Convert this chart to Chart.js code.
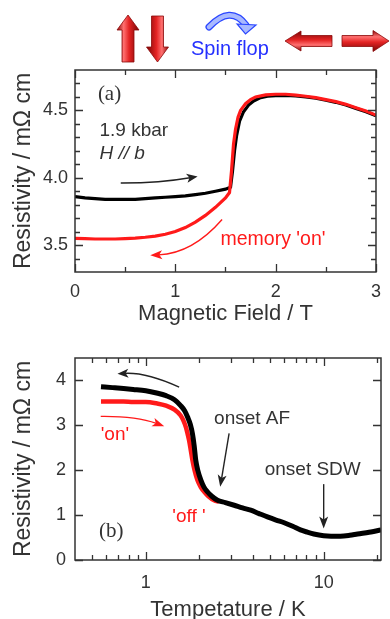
<!DOCTYPE html>
<html>
<head>
<meta charset="utf-8">
<script src="https://cdn.jsdelivr.net/npm/chart.js@4.4.1/dist/chart.umd.min.js"></script>
<style>
  html, body { margin: 0; padding: 0; background: #fff; }
  body { width: 390px; height: 619px; overflow: hidden; position: relative; }
  canvas { display: block; position: absolute; left: 0; }
  #chartA { top: 0; }
  #chartB { top: 335px; }
</style>
</head>
<body>
<canvas id="chartA" width="390" height="335"></canvas>
<canvas id="chartB" width="390" height="294"></canvas>
<script>
// (a) resistivity vs magnetic field
const fieldBlack = [0, 0.1, 0.2, 0.3, 0.4, 0.5, 0.6, 0.7, 0.8, 0.9, 1.0, 1.1, 1.2, 1.3, 1.4, 1.5,
  1.55, 1.57, 1.59, 1.61, 1.64, 1.68, 1.73, 1.78, 1.85, 1.92,
  2.0, 2.1, 2.2, 2.3, 2.4, 2.5, 2.6, 2.7, 2.8, 2.9, 3.0];
const rhoBlackA = [3.86, 3.85, 3.845, 3.84, 3.84, 3.84, 3.84, 3.845, 3.85, 3.855, 3.86, 3.865, 3.875, 3.885, 3.9, 3.915,
  3.93, 4.05, 4.2, 4.31, 4.42, 4.49, 4.54, 4.57, 4.595, 4.605,
  4.61, 4.612, 4.607, 4.6, 4.59, 4.575, 4.56, 4.54, 4.515, 4.49, 4.46];
const fieldRed = [0, 0.1, 0.2, 0.3, 0.4, 0.5, 0.6, 0.7, 0.8, 0.9, 1.0, 1.1, 1.2, 1.3, 1.4, 1.5,
  1.54, 1.56, 1.58, 1.6, 1.625, 1.65, 1.7, 1.75, 1.8, 1.9,
  2.0, 2.1, 2.2, 2.3, 2.4, 2.5, 2.6, 2.7, 2.8, 2.9, 3.0];
const rhoRedA = [3.55, 3.548, 3.545, 3.545, 3.545, 3.548, 3.552, 3.558, 3.567, 3.58, 3.6, 3.63, 3.67, 3.72, 3.78, 3.85,
  3.89, 4.05, 4.25, 4.36, 4.45, 4.5, 4.55, 4.58, 4.6, 4.615,
  4.62, 4.62, 4.613, 4.605, 4.595, 4.58, 4.565, 4.545, 4.52, 4.495, 4.465];

// (b) resistivity vs temperature
const tempBlack = [0.56, 0.65, 0.75, 0.85, 1.0, 1.15, 1.3, 1.45, 1.57, 1.65, 1.72, 1.78, 1.83, 1.87, 1.91, 1.96,
  2.04, 2.12, 2.22, 2.35, 2.53, 2.8, 3.14, 3.5, 3.89, 4.3, 4.83, 5.4, 6.0, 6.7, 7.4, 8.1, 8.8,
  10, 11, 12.4, 14, 15.5, 18, 21];
const rhoBlackB = [3.86, 3.84, 3.82, 3.8, 3.77, 3.72, 3.66, 3.57, 3.44, 3.33, 3.18, 3.02, 2.81, 2.55, 2.22, 2.0,
  1.78, 1.63, 1.52, 1.42, 1.33, 1.28, 1.22, 1.16, 1.11, 1.04, 0.96, 0.89, 0.83, 0.75, 0.67, 0.62, 0.58,
  0.54, 0.53, 0.53, 0.55, 0.58, 0.62, 0.67];
const tempRed = [0.56, 0.65, 0.75, 0.85, 1.0, 1.15, 1.3, 1.45, 1.57, 1.63, 1.68, 1.72, 1.75, 1.79, 1.83, 1.88,
  1.95, 2.04, 2.13, 2.25, 2.42, 2.58];
const rhoRedB = [3.53, 3.53, 3.53, 3.52, 3.52, 3.49, 3.44, 3.35, 3.22, 3.1, 2.96, 2.8, 2.67, 2.45, 2.22, 2.0,
  1.78, 1.62, 1.52, 1.42, 1.33, 1.3];

// tick labels
const fieldTicks = [0, 1, 2, 3];
const fieldMinor = [0.5, 1.5, 2.5];
const rhoTicksA = [3.5, 4.0, 4.5];
const rhoMinorA = [3.4, 3.6, 3.7, 3.8, 3.9, 4.1, 4.2, 4.3, 4.4, 4.6, 4.7];
const tempTicks = [1, 10];
const tempMinor = [0.5, 0.6, 0.7, 0.8, 0.9, 2, 3, 4, 5, 6, 7, 8, 9, 20];
const rhoTicksB = [0, 1, 2, 3, 4];

const SANS = '"Liberation Sans", Arial, sans-serif';
const SERIF = '"Liberation Serif", "Times New Roman", serif';
const INK = '#333';
const RED = '#ff1a1a';

function pts(xs, ys) {
  return xs.map((x, i) => ({ x: x, y: ys[i] }));
}

// box frame with inward ticks on all four sides
const framePlugin = {
  id: 'frame',
  afterDatasetsDraw(chart, args, opts) {
    const { ctx, chartArea: a, scales: { x, y } } = chart;
    ctx.save();
    ctx.strokeStyle = INK;
    ctx.lineWidth = 1.5;
    ctx.strokeRect(a.left, a.top, a.right - a.left, a.bottom - a.top);
    ctx.lineWidth = 1.3;
    ctx.beginPath();
    const xt = (vals, len) => vals.forEach(v => {
      const p = Math.round(x.getPixelForValue(v)) + 0.5;
      ctx.moveTo(p, a.bottom); ctx.lineTo(p, a.bottom - len);
      ctx.moveTo(p, a.top); ctx.lineTo(p, a.top + len);
    });
    const yt = (vals, len) => vals.forEach(v => {
      const p = Math.round(y.getPixelForValue(v)) + 0.5;
      ctx.moveTo(a.left, p); ctx.lineTo(a.left + len, p);
      ctx.moveTo(a.right, p); ctx.lineTo(a.right - len, p);
    });
    xt(opts.xMajor, 8); xt(opts.xMinor, 5);
    yt(opts.yMajor, 8); yt(opts.yMinor, 5);
    ctx.stroke();
    ctx.restore();
  }
};

function arrowHead(ctx, tx, ty, ang, len, wid, color) {
  ctx.save();
  ctx.translate(tx, ty);
  ctx.rotate(ang);
  ctx.fillStyle = color;
  ctx.beginPath();
  ctx.moveTo(0, 0);
  ctx.lineTo(-len, -wid / 2);
  ctx.lineTo(-len * 0.75, 0);
  ctx.lineTo(-len, wid / 2);
  ctx.closePath();
  ctx.fill();
  ctx.restore();
}

// texts and arrows given in data coordinates
const notesPlugin = {
  id: 'notes',
  afterDatasetsDraw(chart, args, opts) {
    const { ctx, scales: { x, y } } = chart;
    const px = p => [x.getPixelForValue(p[0]), y.getPixelForValue(p[1])];
    ctx.save();
    (opts.arrows || []).forEach(ar => {
      const p0 = px(ar.from), p1 = px(ar.to);
      const c = ar.ctrl ? px(ar.ctrl) : p0;
      const ang = Math.atan2(p1[1] - c[1], p1[0] - c[0]);
      const hl = ar.head ? ar.head[0] : 10;
      const hw = ar.head ? ar.head[1] : 8;
      const ex = p1[0] - Math.cos(ang) * hl * 0.7, ey = p1[1] - Math.sin(ang) * hl * 0.7;
      ctx.strokeStyle = ar.color;
      ctx.lineWidth = 1.4;
      ctx.beginPath();
      ctx.moveTo(p0[0], p0[1]);
      if (ar.ctrl) ctx.quadraticCurveTo(c[0], c[1], ex, ey);
      else ctx.lineTo(ex, ey);
      ctx.stroke();
      arrowHead(ctx, p1[0], p1[1], ang, hl, hw, ar.color);
    });
    (opts.texts || []).forEach(t => {
      const p = px(t.at);
      ctx.font = t.font;
      ctx.fillStyle = t.color;
      ctx.textAlign = 'left';
      ctx.textBaseline = 'alphabetic';
      ctx.fillText(t.text, p[0], p[1]);
    });
    ctx.restore();
  }
};

function blockArrow(ctx, tx, ty, ang, total, sw, hw, hl) {
  ctx.save();
  ctx.translate(tx, ty);
  ctx.rotate(ang);
  const g = ctx.createLinearGradient(0, -hw / 2, 0, hw / 2);
  g.addColorStop(0, '#8a0808');
  g.addColorStop(0.3, '#ff7070');
  g.addColorStop(0.55, '#e42424');
  g.addColorStop(1, '#7a0505');
  ctx.fillStyle = g;
  ctx.strokeStyle = '#8c0a0a';
  ctx.lineWidth = 0.8;
  ctx.beginPath();
  ctx.moveTo(0, 0);
  ctx.lineTo(-hl, -hw / 2);
  ctx.lineTo(-hl, -sw / 2);
  ctx.lineTo(-total, -sw / 2);
  ctx.lineTo(-total, sw / 2);
  ctx.lineTo(-hl, sw / 2);
  ctx.lineTo(-hl, hw / 2);
  ctx.closePath();
  ctx.fill();
  ctx.stroke();
  ctx.restore();
}

// spin pictograms above panel (a)
const spinPlugin = {
  id: 'spins',
  afterDraw(chart) {
    const ctx = chart.ctx;
    ctx.save();
    blockArrow(ctx, 128, 15, -Math.PI / 2, 47, 12, 22, 15);
    blockArrow(ctx, 157.5, 62, Math.PI / 2, 46, 12, 22, 15);
    blockArrow(ctx, 285, 41, Math.PI, 47, 11, 20, 16);
    blockArrow(ctx, 389, 41, 0, 47, 11, 21, 16);
    // blue curved arrow
    ctx.lineCap = 'round';
    ctx.beginPath();
    ctx.moveTo(209, 27);
    ctx.quadraticCurveTo(230.5, 4.5, 246, 25);
    ctx.strokeStyle = '#2a46ff';
    ctx.lineWidth = 7;
    ctx.stroke();
    ctx.strokeStyle = '#a9b9ff';
    ctx.lineWidth = 4.5;
    ctx.stroke();
    ctx.beginPath();
    ctx.moveTo(237, 24);
    ctx.lineTo(256, 25);
    ctx.lineTo(245.5, 34);
    ctx.closePath();
    ctx.fillStyle = '#a9b9ff';
    ctx.fill();
    ctx.strokeStyle = '#2a46ff';
    ctx.lineWidth = 1.2;
    ctx.stroke();
    ctx.font = '20px ' + SANS;
    ctx.fillStyle = '#2430ff';
    ctx.textAlign = 'left';
    ctx.textBaseline = 'alphabetic';
    ctx.fillText('Spin flop', 191, 54.5);
    ctx.restore();
  }
};

const chartA = new Chart(document.getElementById('chartA'), {
  type: 'scatter',
  data: {
    datasets: [
      { data: pts(fieldRed, rhoRedA), borderColor: RED, borderWidth: 3.2, showLine: true, pointRadius: 0, tension: 0 },
      { data: pts(fieldBlack, rhoBlackA), borderColor: '#000', borderWidth: 3.2, showLine: true, pointRadius: 0, tension: 0 }
    ]
  },
  options: {
    responsive: false,
    animation: false,
    events: [],
    layout: { padding: { top: 70, right: 8, left: 0, bottom: 0 } },
    plugins: {
      legend: { display: false },
      tooltip: { enabled: false },
      frame: { xMajor: fieldTicks, xMinor: fieldMinor, yMajor: rhoTicksA, yMinor: rhoMinorA },
      notes: {
        arrows: [
          { from: [0.456, 3.961], ctrl: [0.84, 3.96], to: [1.222, 4.01], color: '#222', head: [11, 9] },
          { from: [1.466, 3.69], ctrl: [1.173, 3.439], to: [0.75, 3.424], color: RED, head: [12, 9] }
        ],
        texts: [
          { text: '(a)', at: [0.228, 4.58], font: '21px ' + SERIF, color: INK },
          { text: '1.9 kbar', at: [0.244, 4.308], font: '19px ' + SANS, color: INK },
          { text: 'H // b', at: [0.244, 4.138], font: 'italic 19px ' + SANS, color: INK },
          { text: "memory 'on'", at: [1.45, 3.498], font: '19.5px ' + SANS, color: RED }
        ]
      }
    },
    scales: {
      x: {
        type: 'linear', min: 0, max: 3,
        afterBuildTicks: s => { s.ticks = fieldTicks.map(v => ({ value: v })); },
        afterFit: s => { s.height = 63; },
        grid: { display: false, drawTicks: false },
        border: { display: false },
        ticks: { autoSkip: false, maxRotation: 0, padding: 9, color: INK, font: { family: SANS, size: 18 },
          callback: v => String(v) },
        title: { display: true, text: 'Magnetic Field / T', color: INK, font: { family: SANS, size: 22 },
          padding: { top: 0, bottom: 8 } }
      },
      y: {
        type: 'linear', min: 3.3, max: 4.8,
        afterBuildTicks: s => { s.ticks = rhoTicksA.map(v => ({ value: v })); },
        afterFit: s => { s.width = 75; },
        grid: { display: false, drawTicks: false },
        border: { display: false },
        ticks: { padding: 7, color: INK, font: { family: SANS, size: 18 }, callback: v => v.toFixed(1) },
        title: { display: true, text: 'Resistivity / mΩ cm', color: INK, font: { family: SANS, size: 23 },
          padding: { top: 10, bottom: 0 } }
      }
    }
  },
  plugins: [framePlugin, notesPlugin, spinPlugin]
});

const chartB = new Chart(document.getElementById('chartB'), {
  type: 'scatter',
  data: {
    datasets: [
      { data: pts(tempBlack, rhoBlackB), borderColor: '#000', borderWidth: 5, showLine: true, pointRadius: 0,
        cubicInterpolationMode: 'monotone' },
      { data: pts(tempRed, rhoRedB), borderColor: RED, borderWidth: 4.5, showLine: true, pointRadius: 0,
        cubicInterpolationMode: 'monotone' }
    ]
  },
  options: {
    responsive: false,
    animation: false,
    events: [],
    layout: { padding: { top: 23, right: 9, left: 0, bottom: 0 } },
    plugins: {
      legend: { display: false },
      tooltip: { enabled: false },
      frame: { xMajor: tempTicks, xMinor: tempMinor, yMajor: rhoTicksB, yMinor: [] },
      notes: {
        arrows: [
          { from: [1.54, 3.85], ctrl: [1.012, 4.18], to: [0.693, 4.15], color: '#222', head: [11, 9] },
          { from: [0.558, 3.2], ctrl: [0.879, 3.21], to: [1.27, 2.98], color: RED, head: [12, 9] },
          { from: [2.94, 2.82], to: [2.62, 1.63], color: '#222', head: [12, 9] },
          { from: [10, 1.69], to: [10, 0.7], color: '#222', head: [12, 9] }
        ],
        texts: [
          { text: '(b)', at: [0.546, 0.51], font: '21px ' + SERIF, color: INK },
          { text: "'on'", at: [0.558, 2.67], font: '19px ' + SANS, color: RED },
          { text: "'off '", at: [1.41, 0.85], font: '19px ' + SANS, color: RED },
          { text: 'onset AF', at: [2.42, 3.02], font: '19px ' + SANS, color: INK },
          { text: 'onset SDW', at: [4.66, 1.89], font: '19px ' + SANS, color: INK }
        ]
      }
    },
    scales: {
      x: {
        type: 'logarithmic', min: 0.4, max: 21,
        afterBuildTicks: s => { s.ticks = tempTicks.map(v => ({ value: v })); },
        afterFit: s => { s.height = 69; },
        grid: { display: false, drawTicks: false },
        border: { display: false },
        ticks: { autoSkip: false, maxRotation: 0, padding: 12, color: INK, font: { family: SANS, size: 18 },
          callback: v => String(v) },
        title: { display: true, text: 'Tempetature / K', color: INK, font: { family: SANS, size: 22 },
          padding: { top: 0, bottom: 6 } }
      },
      y: {
        type: 'linear', min: 0, max: 4.5,
        afterBuildTicks: s => { s.ticks = rhoTicksB.map(v => ({ value: v })); },
        afterFit: s => { s.width = 75; },
        grid: { display: false, drawTicks: false },
        border: { display: false },
        ticks: { padding: 9, color: INK, font: { family: SANS, size: 18 }, callback: v => String(v) },
        title: { display: true, text: 'Resistivity / mΩ cm', color: INK, font: { family: SANS, size: 23 },
          padding: { top: 10, bottom: 0 } }
      }
    }
  },
  plugins: [framePlugin, notesPlugin]
});
</script>
</body>
</html>
